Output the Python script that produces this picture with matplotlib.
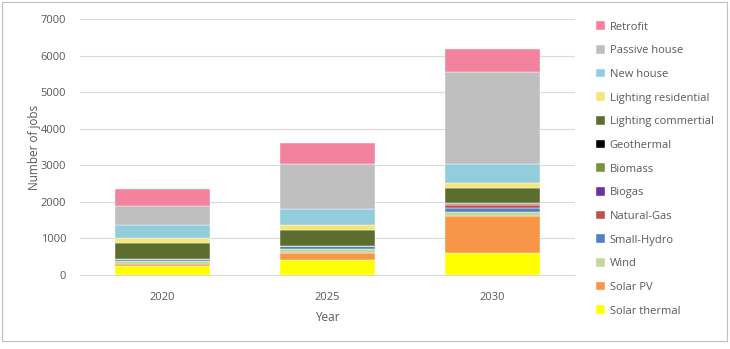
# Stacked bar chart of jobs by sector, 2020-2030
import numpy as np
import matplotlib
matplotlib.use("Agg")
import matplotlib.pyplot as plt
from matplotlib.patches import Rectangle

years = ["2020", "2025", "2030"]

# series listed bottom to top
series_names = ["Solar thermal", "Solar PV", "Wind", "Small-Hydro", "Natural-Gas",
                "Biogas", "Biomass", "Geothermal", "Lighting commertial",
                "Lighting residential", "New house", "Passive house", "Retrofit"]

solar_thermal = [250, 420, 590]
solar_pv = [55, 190, 1020]
wind = [80, 110, 110]
small_hydro = [40, 70, 110]
natural_gas = [5, 5, 80]
biogas = [3, 5, 30]
biomass = [5, 5, 20]
geothermal = [2, 0, 5]
lighting_comm = [425, 415, 415]
lighting_res = [150, 147, 145]
new_house = [340, 447, 520]
passive_house = [540, 1213, 2505]
retrofit = [460, 573, 620]

series_values = [solar_thermal, solar_pv, wind, small_hydro, natural_gas, biogas,
                 biomass, geothermal, lighting_comm, lighting_res, new_house,
                 passive_house, retrofit]

colors = ["#FFFF00", "#F79646", "#C3D69B", "#4F81BD", "#C0504D", "#7030A0",
          "#77933C", "#000000", "#5B6E2E", "#F7E57A", "#92CDDC", "#BFBFBF",
          "#F2829E"]

plt.rcParams["font.family"] = ["Open Sans", "DejaVu Sans"]
text_color = "#595959"

fig = plt.figure(figsize=(7.3, 3.49), dpi=100)
ax = fig.add_axes([80 / 730, 1 - 275 / 349, 495 / 730, 256 / 349])

x = np.arange(len(years))
bottom = np.zeros(len(years))
handles = []
for name, vals, c in zip(series_names, series_values, colors):
    b = ax.bar(x, vals, width=0.57, bottom=bottom, color=c, label=name,
               edgecolor="white", linewidth=0.3, zorder=3)
    handles.append(b)
    bottom += np.array(vals)

ax.set_xlim(-0.5, 2.5)
ax.set_ylim(0, 7000)
ax.set_yticks(range(0, 7001, 1000))
ax.set_xticks(x)
ax.set_xticklabels(years)
ax.grid(axis="y", color="#D9D9D9", linewidth=0.8, zorder=0)
for s in ["top", "right", "left"]:
    ax.spines[s].set_visible(False)
ax.spines["bottom"].set_color("#D9D9D9")
ax.tick_params(axis="y", length=0, labelsize=8, colors=text_color, pad=10)
ax.tick_params(axis="x", length=0, labelsize=8, colors=text_color, pad=12)
ax.set_xlabel("Year", fontsize=8.5, color=text_color, labelpad=6)
ax.set_ylabel("Number of jobs", fontsize=8.5, color=text_color, labelpad=0)

leg = fig.legend(handles[::-1], series_names[::-1], loc="upper left",
                 bbox_to_anchor=(592 / 730, 1 - 17 / 349), frameon=False,
                 fontsize=8, handlelength=0.8, handleheight=0.8,
                 handletextpad=0.4, labelspacing=1.13, borderaxespad=0)
for t in leg.get_texts():
    t.set_color(text_color)

fig.patches.append(Rectangle((2 / 730, 8 / 349), 725 / 730, 339 / 349,
                             transform=fig.transFigure, fill=False,
                             edgecolor="#BFBFBF", linewidth=0.8))

fig.savefig("out.png", dpi=100)
